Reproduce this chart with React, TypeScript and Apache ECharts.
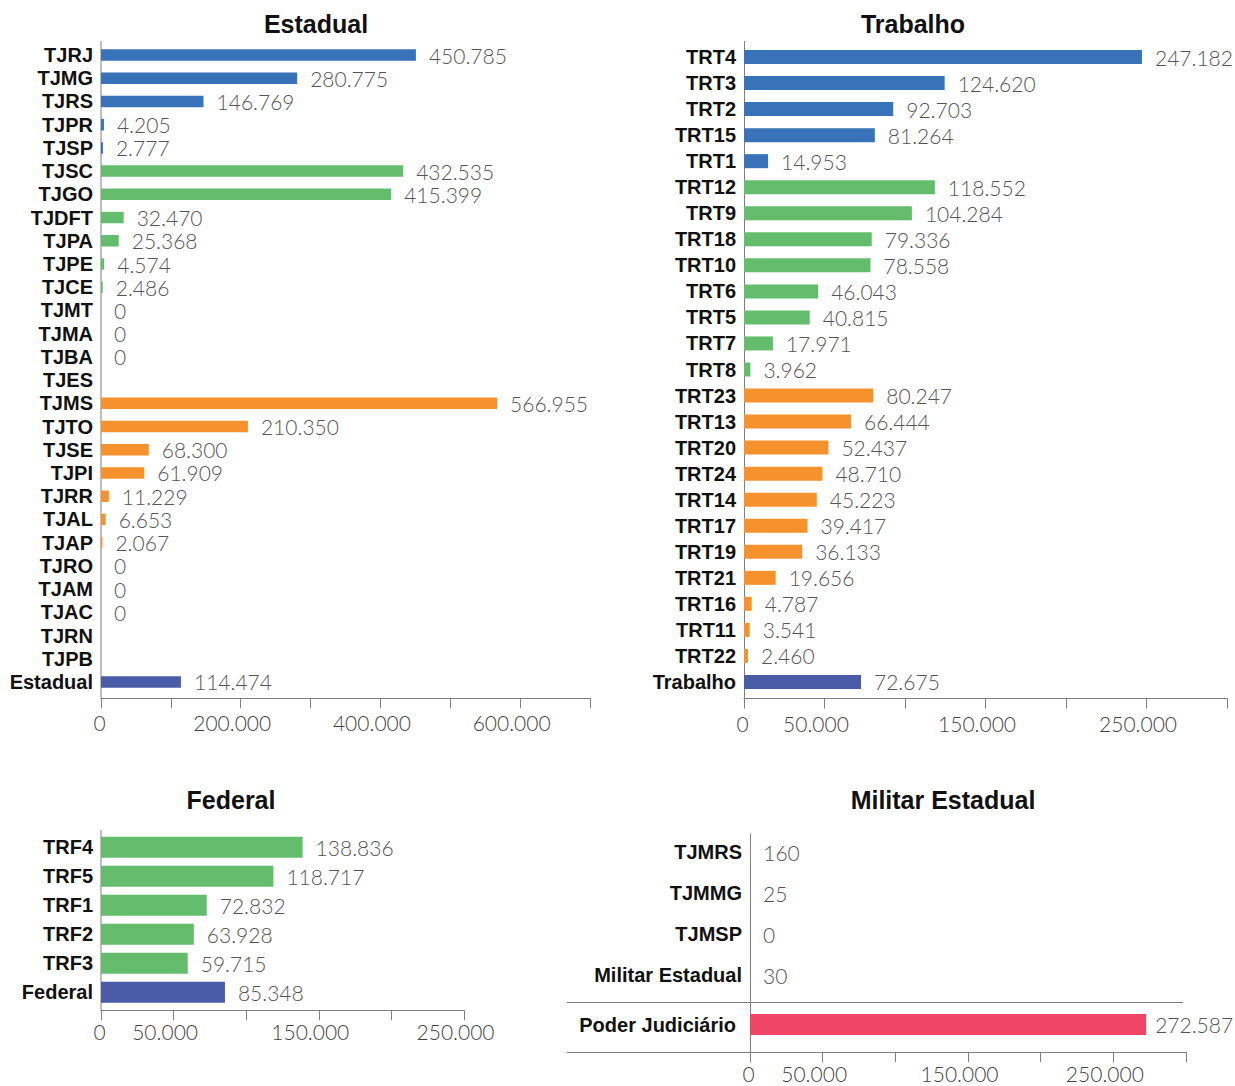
import React, { useEffect, useRef } from "react";
import * as echarts from "echarts";

// ---------- DATA ----------
const ESTADUAL_CATS = ["TJRJ","TJMG","TJRS","TJPR","TJSP","TJSC","TJGO","TJDFT","TJPA","TJPE","TJCE","TJMT","TJMA","TJBA","TJES","TJMS","TJTO","TJSE","TJPI","TJRR","TJAL","TJAP","TJRO","TJAM","TJAC","TJRN","TJPB","Estadual"];
const ESTADUAL_VALUES: (number | null)[] = [450785,280775,146769,4205,2777,432535,415399,32470,25368,4574,2486,0,0,0,null,566955,210350,68300,61909,11229,6653,2067,0,0,0,null,null,114474];
const ESTADUAL_GROUPS = ["G","G","G","G","G","M","M","M","M","M","M","M","M","M","M","P","P","P","P","P","P","P","P","P","P","P","P","T"];

const TRABALHO_CATS = ["TRT4","TRT3","TRT2","TRT15","TRT1","TRT12","TRT9","TRT18","TRT10","TRT6","TRT5","TRT7","TRT8","TRT23","TRT13","TRT20","TRT24","TRT14","TRT17","TRT19","TRT21","TRT16","TRT11","TRT22","Trabalho"];
const TRABALHO_VALUES: (number | null)[] = [247182,124620,92703,81264,14953,118552,104284,79336,78558,46043,40815,17971,3962,80247,66444,52437,48710,45223,39417,36133,19656,4787,3541,2460,72675];
const TRABALHO_GROUPS = ["G","G","G","G","G","M","M","M","M","M","M","M","M","P","P","P","P","P","P","P","P","P","P","P","T"];

const FEDERAL_CATS = ["TRF4","TRF5","TRF1","TRF2","TRF3","Federal"];
const FEDERAL_VALUES: (number | null)[] = [138836,118717,72832,63928,59715,85348];
const FEDERAL_GROUPS = ["M","M","M","M","M","T"];

const MILITAR_CATS = ["TJMRS","TJMMG","TJMSP","Militar Estadual"];
const MILITAR_VALUES: (number | null)[] = [160,25,0,30];
const MILITAR_GROUPS = ["P","P","P","T"];

const PODER_CATS = ["Poder Judiciário"];
const PODER_VALUES: (number | null)[] = [272587];
const PODER_GROUPS = ["J"];

const TITLES = ["Estadual", "Trabalho", "Federal", "Militar Estadual"];

const COLORS: Record<string, string> = {
  G: "#3872b9",
  M: "#64bd6c",
  P: "#f6922e",
  T: "#4a5ca8",
  J: "#ef4566",
};

// ---------- HELPERS ----------
const fmt = (v: number) => String(v).replace(/\B(?=(\d{3})+(?!\d))/g, ".");

const LIGHT = "Lato";
const BOLD = "'Liberation Sans', Arial, sans-serif";
const AXIS_COLOR = "#7f7f7f";

function tickFormatter(hidden: number[]) {
  return (v: number) => {
    if (hidden.indexOf(v) >= 0) return "";
    if (v === 0) return "{z|0}";
    return "{n|" + fmt(v) + "}";
  };
}

const tickRich = {
  z: { fontFamily: LIGHT, fontWeight: 300, fontSize: 21, color: "#444", padding: [0, 3, 0, 0] },
  n: { fontFamily: LIGHT, fontWeight: 300, fontSize: 21, color: "#444", padding: [0, 17, 0, 0] },
};

function mkData(values: (number | null)[], groups: string[]) {
  return values.map((v, i) => ({ value: v, itemStyle: { color: COLORS[groups[i]] } }));
}

export default function App() {
  const ref = useRef<HTMLDivElement>(null);
  useEffect(() => {
    if (!ref.current) return;
    const chart = echarts.init(ref.current, null, { renderer: "svg" });

    const grids = [
      { left: 101, top: 43.4, width: 489, height: 650.2 }, // Estadual
      { left: 744, top: 44, width: 483, height: 651 }, // Trabalho
      { left: 101, top: 832.7, width: 363, height: 174 }, // Federal
      { left: 750, top: 831.5, width: 436, height: 164 }, // Militar
      { left: 750, top: 1003, width: 436, height: 43 }, // Poder
    ];

    const xAxisBase = (gi: number, max: number, interval: number, hidden: number[], offset: number, margin: number, show = true) => ({
      type: "value",
      gridIndex: gi,
      min: 0,
      max,
      interval,
      show,
      offset,
      splitLine: { show: false },
      axisLine: { show: true, lineStyle: { color: AXIS_COLOR, width: 1 } },
      axisTick: { show: true, length: 10, lineStyle: { color: AXIS_COLOR } },
      axisLabel: {
        show: true,
        margin,
        formatter: tickFormatter(hidden),
        rich: tickRich,
        showMinLabel: true,
        showMaxLabel: true,
        hideOverlap: false,
      },
    });

    const yAxisBase = (gi: number, cats: string[], margin = 8) => ({
      type: "category",
      gridIndex: gi,
      data: cats,
      inverse: true,
      axisLine: { show: false },
      axisTick: { show: false },
      axisLabel: {
        margin,
        fontFamily: BOLD,
        fontWeight: "bold",
        fontSize: 20,
        color: "#111",
        interval: 0,
      },
    });

    const barLabel = (distance: number) => ({
      show: true,
      position: "right",
      distance,
      fontFamily: LIGHT,
      fontWeight: 300,
      fontSize: 21,
      color: "#555",
      formatter: (p: any) => (p.value == null ? "" : fmt(p.value)),
    });

    const series = [
      { values: ESTADUAL_VALUES, groups: ESTADUAL_GROUPS, bw: 11.5, d: 13 },
      { values: TRABALHO_VALUES, groups: TRABALHO_GROUPS, bw: 14, d: 13 },
      { values: FEDERAL_VALUES, groups: FEDERAL_GROUPS, bw: 21, d: 13 },
      { values: MILITAR_VALUES, groups: MILITAR_GROUPS, bw: 21, d: 13 },
      { values: PODER_VALUES, groups: PODER_GROUPS, bw: 21, d: 9 },
    ].map((s, i) => ({
      type: "bar",
      xAxisIndex: i,
      yAxisIndex: i,
      barWidth: s.bw,
      data: mkData(s.values, s.groups),
      label: barLabel(s.d),
    }));

    const lineStyle = { stroke: AXIS_COLOR, lineWidth: 1 };
    const titleStyle = (text: string) => ({
      text,
      fill: "#111",
      fontFamily: BOLD,
      fontWeight: "bold",
      fontSize: 25,
      textAlign: "center",
      textVerticalAlign: "middle",
    });

    chart.setOption({
      animation: false,
      backgroundColor: "#ffffff",
      grid: grids,
      xAxis: [
        xAxisBase(0, 700000, 100000, [100000, 300000, 500000, 700000], 4.5, 14),
        xAxisBase(1, 300000, 50000, [100000, 200000, 300000], 3.5, 14),
        xAxisBase(2, 250000, 50000, [100000, 200000], 3.5, 11),
        xAxisBase(3, 300000, 50000, [], 0, 14, false),
        xAxisBase(4, 300000, 50000, [100000, 200000, 300000], 6, 11),
      ],
      yAxis: [
        yAxisBase(0, ESTADUAL_CATS),
        yAxisBase(1, TRABALHO_CATS),
        yAxisBase(2, FEDERAL_CATS),
        yAxisBase(3, MILITAR_CATS),
        yAxisBase(4, PODER_CATS, 14),
      ],
      series,
      graphic: [
        { type: "text", x: 316, y: 24, style: titleStyle(TITLES[0]) },
        { type: "text", x: 913, y: 24, style: titleStyle(TITLES[1]) },
        { type: "text", x: 231, y: 800, style: titleStyle(TITLES[2]) },
        { type: "text", x: 943, y: 800, style: titleStyle(TITLES[3]) },
        // vertical category axis lines
        { type: "line", shape: { x1: 101, y1: 41, x2: 101, y2: 698 }, style: lineStyle },
        { type: "line", shape: { x1: 744.5, y1: 41, x2: 744.5, y2: 698.5 }, style: lineStyle },
        { type: "line", shape: { x1: 101, y1: 830, x2: 101, y2: 1010 }, style: lineStyle },
        { type: "line", shape: { x1: 750.5, y1: 834, x2: 750.5, y2: 1052 }, style: lineStyle },
        // separator lines in Militar panel
        { type: "line", shape: { x1: 567, y1: 1002.5, x2: 1183, y2: 1002.5 }, style: lineStyle },
        { type: "line", shape: { x1: 567, y1: 1052.5, x2: 750, y2: 1052.5 }, style: lineStyle },
      ],
    });

    return () => chart.dispose();
  }, []);

  return <div ref={ref} style={{ width: 1235, height: 1086, position: "absolute", left: 0, top: 0 }} />;
}
